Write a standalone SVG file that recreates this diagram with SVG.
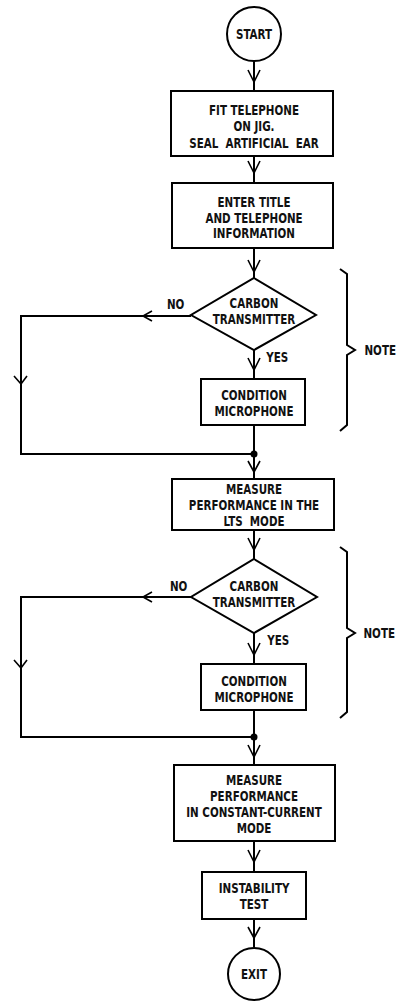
<svg xmlns="http://www.w3.org/2000/svg" width="398" height="1002" viewBox="0 0 398 1002">
<style>
.s{fill:#fff;stroke:#000;stroke-width:2}
.l{fill:none;stroke:#000;stroke-width:2}
.a{fill:none;stroke:#000;stroke-width:1.6}
text{font-family:"Liberation Sans Narrow","DejaVu Sans Condensed","Liberation Sans",sans-serif;font-weight:bold;font-size:14px;fill:#111;text-anchor:middle;transform-box:fill-box;transform-origin:center;transform:scaleX(0.82)}
.n{text-anchor:start}
</style>
<rect width="398" height="1002" fill="#fff"/>
<g id="connectors">
<path class="l" d="M254 61V91M254 156V183M254 248V278M254 350V379M254 425V479M254 530V559M254 633V664M254 710V765M254 841V872M254 919V947"/>
<path class="l" d="M191 316H21V454H254M191 597H21V737H254"/>
<path class="a" d="M248 70L254 82L260 70M248 161L254 173L260 161M248 260L254 272L260 260M248 358L254 370L260 358M248 461L254 472L260 461M248 538L254 550L260 538M248 643L254 655L260 643M248 745L254 757L260 745M248 850L254 862L260 850M248 927L254 938L260 927"/>
<path class="a" d="M152 311L143 316L152 321M152 592L143 597L152 602M14 376L21 384L27 376M14 660L21 668L27 660"/>
<circle cx="254" cy="454" r="3.5"/>
<circle cx="254" cy="737" r="3.5"/>
</g>
<g id="start"><circle class="s" cx="254" cy="34" r="27"/><text x="254" y="39">START</text></g>
<g id="fit"><rect class="s" x="171" y="91" width="162" height="65"/><text x="254" y="115">FIT TELEPHONE</text><text x="254" y="131">ON JIG.</text><text x="254" y="148" xml:space="preserve">SEAL  ARTIFICIAL  EAR</text></g>
<g id="enter"><rect class="s" x="172" y="183" width="161" height="65"/><text x="254" y="207">ENTER TITLE</text><text x="254" y="223">AND TELEPHONE</text><text x="254" y="238">INFORMATION</text></g>
<g id="carbon1"><polygon class="s" points="254,278 316,315 254,350 191,315"/><text x="254" y="308">CARBON</text><text x="254" y="324">TRANSMITTER</text><text class="n" x="165" y="309">NO</text><text class="n" x="264" y="362">YES</text></g>
<g id="cond1"><rect class="s" x="201" y="379" width="104" height="46"/><text x="254" y="400">CONDITION</text><text x="254" y="416">MICROPHONE</text></g>
<g id="note1"><path class="l" d="M340 269L347 274V345L355 350L347 355V425L340 431"/><text class="n" x="361" y="355">NOTE</text></g>
<g id="lts"><rect class="s" x="172" y="479" width="162" height="51"/><text x="254" y="494">MEASURE</text><text x="254" y="510">PERFORMANCE IN THE</text><text x="254" y="526" xml:space="preserve">LTS  MODE</text></g>
<g id="carbon2"><polygon class="s" points="254,559 317,597 254,633 191,597"/><text x="254" y="591">CARBON</text><text x="254" y="607">TRANSMITTER</text><text class="n" x="168" y="591">NO</text><text class="n" x="265" y="645">YES</text></g>
<g id="cond2"><rect class="s" x="201" y="664" width="105" height="46"/><text x="254" y="686">CONDITION</text><text x="254" y="702">MICROPHONE</text></g>
<g id="note2"><path class="l" d="M340 547L347 552V628L355 633L347 638V712L340 718"/><text class="n" x="360" y="638">NOTE</text></g>
<g id="measure"><rect class="s" x="174" y="765" width="161" height="76"/><text x="254" y="785">MEASURE</text><text x="254" y="801">PERFORMANCE</text><text x="254" y="817">IN CONSTANT-CURRENT</text><text x="254" y="833">MODE</text></g>
<g id="instab"><rect class="s" x="202" y="872" width="104" height="47"/><text x="254" y="893">INSTABILITY</text><text x="254" y="909">TEST</text></g>
<g id="exit"><circle class="s" cx="254" cy="974" r="26"/><text x="254" y="979">EXIT</text></g>
</svg>
